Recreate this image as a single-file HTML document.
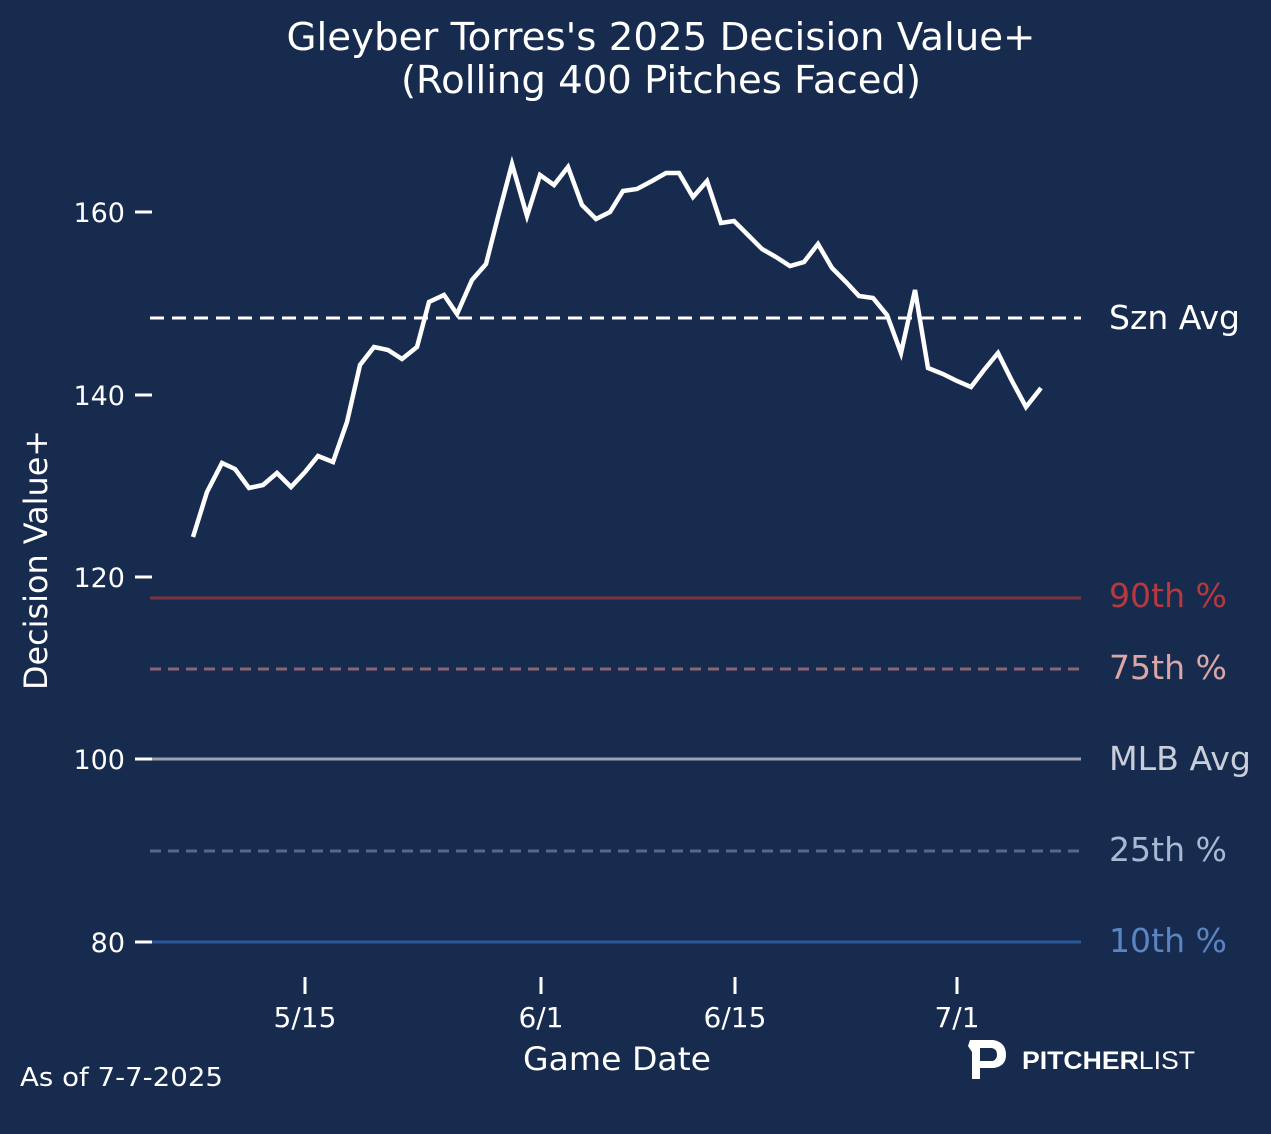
<!DOCTYPE html>
<html><head><meta charset="utf-8"><style>html,body{margin:0;padding:0;background:#172b4f}</style></head>
<body>
<svg width="1271" height="1129" viewBox="0 0 1271 1129" xmlns="http://www.w3.org/2000/svg" font-family="'DejaVu Sans', 'Liberation Sans', sans-serif">
<rect width="1271" height="1129" fill="#172b4f"/>
<text x="661" y="50" fill="#fff" font-size="38" text-anchor="middle" textLength="749" lengthAdjust="spacingAndGlyphs">Gleyber Torres's 2025 Decision Value+</text>
<text x="661" y="93" fill="#fff" font-size="38" text-anchor="middle" textLength="520" lengthAdjust="spacingAndGlyphs">(Rolling 400 Pitches Faced)</text>
<g stroke-width="3">
<line x1="150" y1="598" x2="1081" y2="598" stroke="#7a3440"/>
<line x1="150" y1="669" x2="1081" y2="669" stroke="#8a6670" stroke-dasharray="11,7"/>
<line x1="150" y1="759" x2="1081" y2="759" stroke="#9ba1ad"/>
<line x1="150" y1="851" x2="1081" y2="851" stroke="#56698a" stroke-dasharray="11,7"/>
<line x1="150" y1="942" x2="1081" y2="942" stroke="#2d5796"/>
<line x1="150" y1="318" x2="1081" y2="318" stroke="#fff" stroke-dasharray="14,8"/>
</g>
<g font-size="33">
<text x="1109" y="329" fill="#fff" textLength="131" lengthAdjust="spacingAndGlyphs">Szn Avg</text>
<text x="1109" y="607" fill="#b8393d" textLength="118" lengthAdjust="spacingAndGlyphs">90th %</text>
<text x="1109" y="679" fill="#dba6a6" textLength="118" lengthAdjust="spacingAndGlyphs">75th %</text>
<text x="1109" y="770" fill="#c9ced8" textLength="142" lengthAdjust="spacingAndGlyphs">MLB Avg</text>
<text x="1109" y="861" fill="#a9b9d1" textLength="118" lengthAdjust="spacingAndGlyphs">25th %</text>
<text x="1109" y="952" fill="#5a84c2" textLength="118" lengthAdjust="spacingAndGlyphs">10th %</text>
</g>
<polyline fill="none" stroke="#fff" stroke-width="4.5" stroke-linejoin="miter" points="193,537 207,492 222,463 235,469 249,488 263,485 277,473 291,487 305,472 318,456 333,462 347,422 360,365 374,347 388,350 402,359 417,347 429,302 444,295 457,314 472,280 486,264 499,213 512,164 527,216 540,175 554,185 568,167 582,205 596,219 610,212 623,191 637,189 652,181 666,173 679,173 693,197 707,181 721,223 734,221 748,235 762,249 776,257 790,266 804,262 818,244 832,268 846,282 859,296 873,298 887,315 901,353 915,290 928,368 943,374 957,381 971,387 984,370 998,353 1012,381 1026,407 1041,388"/>
<g stroke="#fff" stroke-width="3">
<line x1="135" y1="212" x2="152" y2="212"/><line x1="135" y1="395" x2="152" y2="395"/>
<line x1="135" y1="577" x2="152" y2="577"/><line x1="135" y1="759" x2="152" y2="759"/>
<line x1="135" y1="942" x2="152" y2="942"/>
<line x1="305" y1="977" x2="305" y2="994"/><line x1="541" y1="977" x2="541" y2="994"/>
<line x1="735" y1="977" x2="735" y2="994"/><line x1="957" y1="977" x2="957" y2="994"/>
</g>
<g font-size="27" fill="#fff" text-anchor="end">
<text x="125" y="222">160</text><text x="125" y="405">140</text><text x="125" y="587">120</text>
<text x="125" y="769">100</text><text x="125" y="952">80</text>
</g>
<g font-size="28" fill="#fff" text-anchor="middle">
<text x="305" y="1027">5/15</text><text x="541" y="1027">6/1</text>
<text x="735" y="1027">6/15</text><text x="957" y="1027">7/1</text>
</g>
<text x="617" y="1070" font-size="32" fill="#fff" text-anchor="middle" textLength="188" lengthAdjust="spacingAndGlyphs">Game Date</text>
<text transform="translate(47,560) rotate(-90)" font-size="32" fill="#fff" text-anchor="middle" textLength="260" lengthAdjust="spacingAndGlyphs">Decision Value+</text>
<text x="20" y="1086" font-size="26" fill="#fff" textLength="203" lengthAdjust="spacingAndGlyphs">As of 7-7-2025</text>
<path d="M970,1040 L993,1040 Q1006,1042 1006,1055 Q1006,1066 994,1068 L980,1068 L980,1079 L972,1079 L972,1052 L968,1046 Z M980,1048 L980,1061 L993,1061 Q997,1059 997,1055 Q997,1049 992,1048 Z" fill="#fff" fill-rule="evenodd"/>
<text x="1022" y="1069" font-size="25" fill="#fff" font-weight="bold" font-family="'Liberation Sans', sans-serif" textLength="173" lengthAdjust="spacingAndGlyphs">PITCHER<tspan font-weight="normal">LIST</tspan></text>
</svg>
</body></html>
